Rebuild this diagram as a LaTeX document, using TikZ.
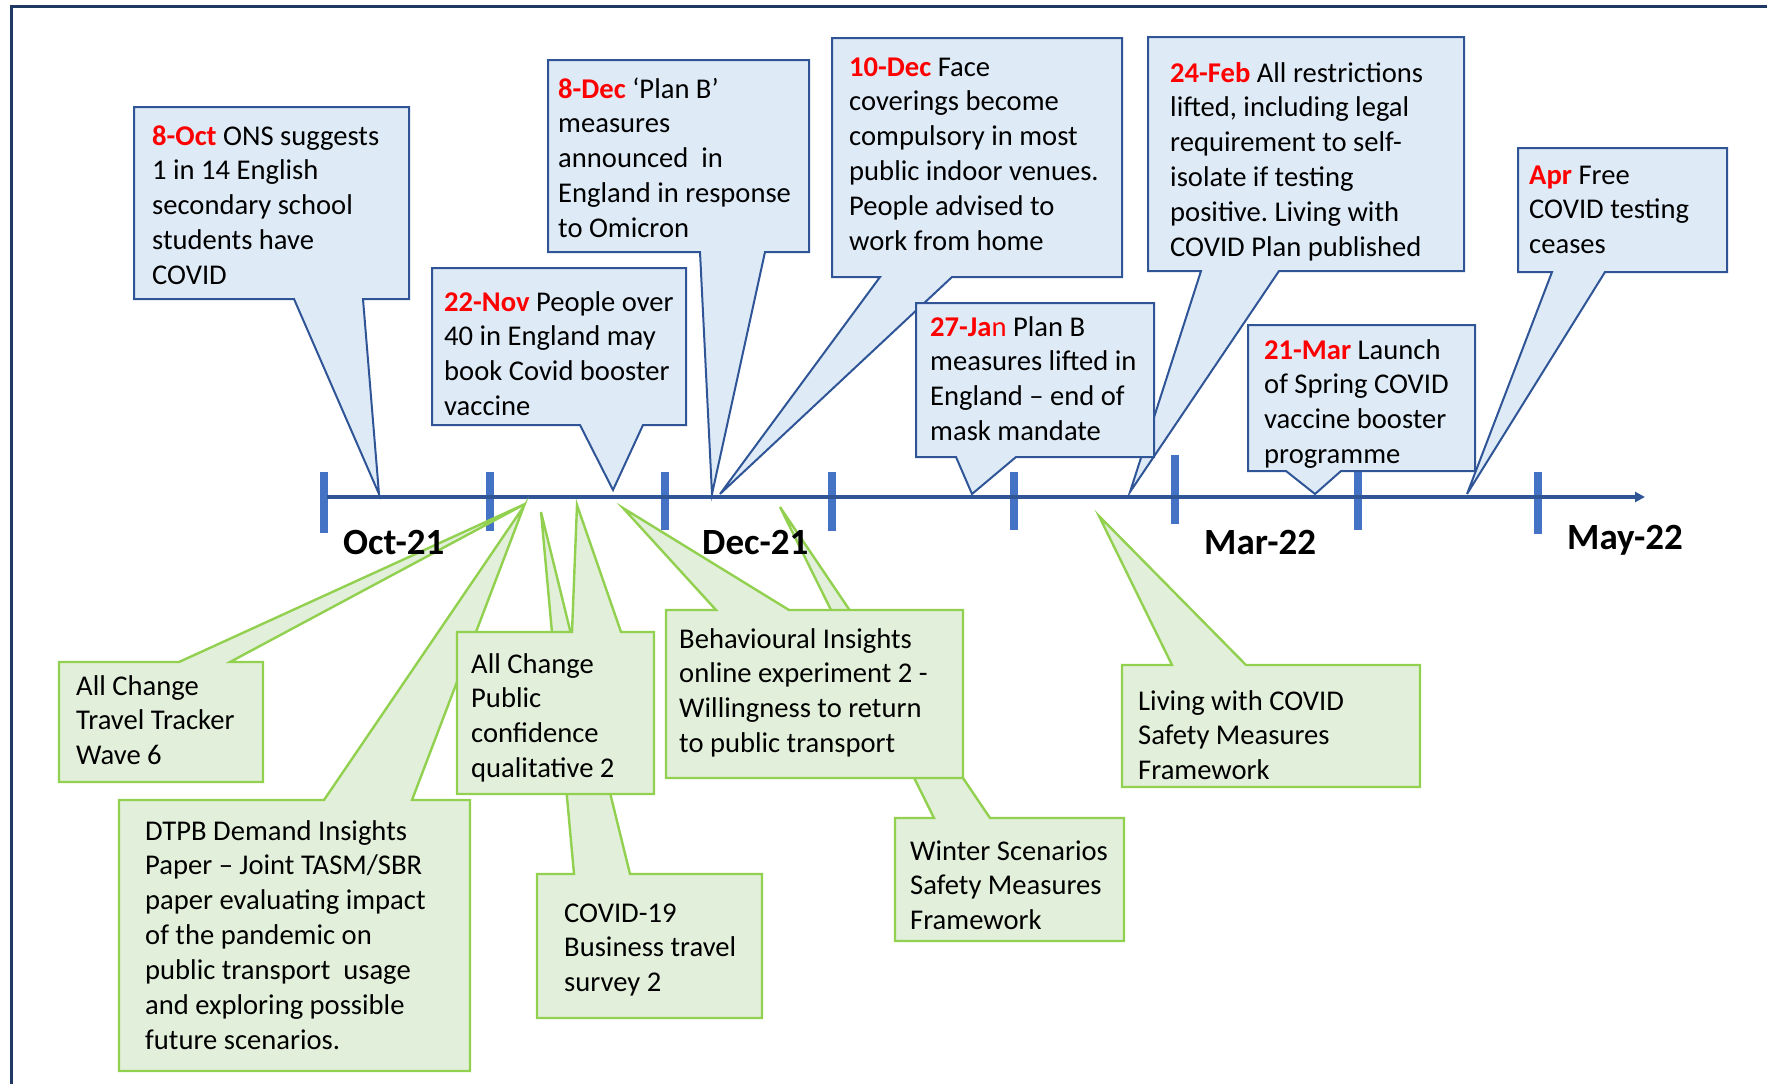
\documentclass[tikz,border=0pt]{standalone}
\usepackage{fontspec}
\setmainfont{Carlito}
\frenchspacing
\usetikzlibrary{arrows.meta}
\definecolor{framenavy}{RGB}{31,56,100}
\definecolor{axisblue}{RGB}{47,85,151}
\definecolor{tickblue}{RGB}{68,114,196}
\definecolor{bluefill}{RGB}{222,235,247}
\definecolor{blueedge}{RGB}{47,85,151}
\definecolor{greenfill}{RGB}{226,239,218}
\definecolor{greenedge}{RGB}{146,208,80}
\definecolor{datered}{RGB}{255,0,0}
\newcommand\dateword[1]{\textcolor{datered}{\bfseries #1}}
\tikzset{
  bluebox/.style={fill=bluefill, draw=blueedge, line width=2pt, line join=miter},
  greenbox/.style={fill=greenfill, draw=greenedge, line width=2.4pt, line join=miter},
  % multi-line text: the base anchor sits on the baseline of the last line
  txt/.style={anchor=base west, inner sep=0pt, align=left, text=black,
    font=\fontsize{28.6}{34.9}\selectfont, yshift=-2pt},
  monthlabel/.style={anchor=base west, inner sep=0pt, text=black,
    font=\fontsize{37}{44}\selectfont\bfseries, yshift=-2pt},
  tickmark/.style={draw=tickblue, line width=8pt},
}
\begin{document}
\begin{tikzpicture}[x=1pt, y=-1pt]
\useasboundingbox (0,0) rectangle (1767,1084);

% outer frame (top and left sides)
\draw[framenavy, line width=3pt] (11,1084) -- (11,6) -- (1767,6);

% time axis with month ticks
\foreach \tx/\ta/\tb in {324/472/533, 490/472/531, 665/472/530, 832/472/531,
                         1014/472/530, 1175/455/524, 1358/472/530, 1538/472/534}
  \draw[tickmark] (\tx,\ta) -- (\tx,\tb);
\coordinate (axisstart) at (327,497);
\coordinate (axisend) at (1645,497);
\draw[axisblue, line width=4pt, -{Triangle[length=10pt,width=10pt]}] (axisstart) -- (axisend);

% ---------- event callouts above the axis ----------
% 8-Oct
\path[bluebox] (134,107) -- (409,107) -- (409,299) -- (363,299) -- (379,494) -- (294,299) -- (134,299) -- cycle;
\node[txt] (oct8) at (152,282.6) {\dateword{8-Oct} ONS suggests\\1 in 14 English\\secondary school\\students have\\COVID};
% 22-Nov
\path[bluebox] (432,268) -- (686,268) -- (686,425) -- (643,425) -- (613,490) -- (580,425) -- (432,425) -- cycle;
\node[txt] (nov22) at (444,413.7) {\dateword{22-Nov} People over\\40 in England may\\book Covid booster\\vaccine};
% 8-Dec
\path[bluebox] (548,60) -- (809,60) -- (809,252) -- (765,252) -- (712,494) -- (700,252) -- (548,252) -- cycle;
\node[txt] (dec8) at (558,235.6) {\dateword{8-Dec} ‘Plan B’\\measures\\announced\ \ in\\England in response\\to Omicron};
% 10-Dec
\path[bluebox] (832,38) -- (1122,38) -- (1122,277) -- (952,277) -- (720,494) -- (880,277) -- (832,277) -- cycle;
\node[txt] (dec10) at (849,248.5) {\dateword{10-Dec} Face\\coverings become\\compulsory in most\\public indoor venues.\\People advised to\\work from home};
% 24-Feb
\path[bluebox] (1148,37) -- (1464,37) -- (1464,271) -- (1279,271) -- (1130,492) -- (1201,271) -- (1148,271) -- cycle;
\node[txt] (feb24) at (1170,254.5) {\dateword{24-Feb} All restrictions\\lifted, including legal\\requirement to self-\\isolate if testing\\positive. Living with\\COVID Plan published};
% 27-Jan
\path[bluebox] (916,303) -- (1154,303) -- (1154,457) -- (1016,457) -- (972,494) -- (956,457) -- (916,457) -- cycle;
\node[txt] (jan27) at (930,438.7) {\textcolor{datered}{\bfseries 27-Ja}\textcolor{datered}{n} Plan B\\measures lifted in\\England -- end of\\mask mandate};
% 21-Mar
\path[bluebox] (1248,325) -- (1475,325) -- (1475,471) -- (1341,471) -- (1315,494) -- (1286,471) -- (1248,471) -- cycle;
\node[txt] (mar21) at (1264,461.7) {\dateword{21-Mar} Launch\\of Spring COVID\\vaccine booster\\programme};
% Apr
\path[bluebox] (1518,148) -- (1727,148) -- (1727,272) -- (1605,272) -- (1467,494) -- (1552,272) -- (1518,272) -- cycle;
\node[txt] (apr) at (1529,251.8) {\dateword{Apr} Free\\COVID testing\\ceases};

% ---------- research callouts below the axis ----------
% All Change Travel Tracker
\path[greenbox] (59,662) -- (179,662) -- (525,504) -- (230,662) -- (263,662) -- (263,782) -- (59,782) -- cycle;
\node[txt] (tracker) at (76,762.8) {All Change\\Travel Tracker\\Wave 6};
% DTPB Demand Insights
\path[greenbox] (119,800) -- (324,800) -- (524,506) -- (412,800) -- (470,800) -- (470,1071) -- (119,1071) -- cycle;
\node[txt] (dtpb) at (145,1047.4) {DTPB Demand Insights\\Paper -- Joint TASM/SBR\\paper evaluating impact\\of the pandemic on\\public transport\ \ usage\\and exploring possible\\future scenarios.};
% COVID-19 Business travel survey
\path[greenbox] (537,874) -- (574,874) -- (541,512) -- (630,874) -- (762,874) -- (762,1018) -- (537,1018) -- cycle;
\node[txt] (business) at (564,989.8) {COVID-19\\Business travel\\survey 2};
% All Change Public confidence
\path[greenbox] (457,632) -- (572,632) -- (577,505) -- (621,632) -- (654,632) -- (654,794) -- (457,794) -- cycle;
\node[txt] (confidence) at (471,775.7) {All Change\\Public\\confidence\\qualitative 2};
% Winter Scenarios
\path[greenbox] (895,818) -- (934,818) -- (780,507) -- (990,818) -- (1124,818) -- (1124,941) -- (895,941) -- cycle;
\node[txt] (winter) at (910,927.8) {Winter Scenarios\\Safety Measures\\Framework};
% Behavioural Insights
\path[greenbox] (666,610) -- (716,610) -- (623,508) -- (789,610) -- (963,610) -- (963,778) -- (666,778) -- cycle;
\node[txt] (behav) at (679,750.7) {Behavioural Insights\\online experiment 2 -\\Willingness to return\\to public transport};
% Living with COVID
\path[greenbox] (1122,665) -- (1172,665) -- (1099,516) -- (1246,665) -- (1420,665) -- (1420,787) -- (1122,787) -- cycle;
\node[txt] (living) at (1138,777.8) {Living with COVID\\Safety Measures\\Framework};

% month labels
\node[monthlabel] (oct) at (343,552) {Oct-21};
\node[monthlabel] (dec) at (702,552) {Dec-21};
\node[monthlabel] (mar) at (1204,552) {Mar-22};
\node[monthlabel] (may) at (1567,547) {May-22};
\end{tikzpicture}
\end{document}
